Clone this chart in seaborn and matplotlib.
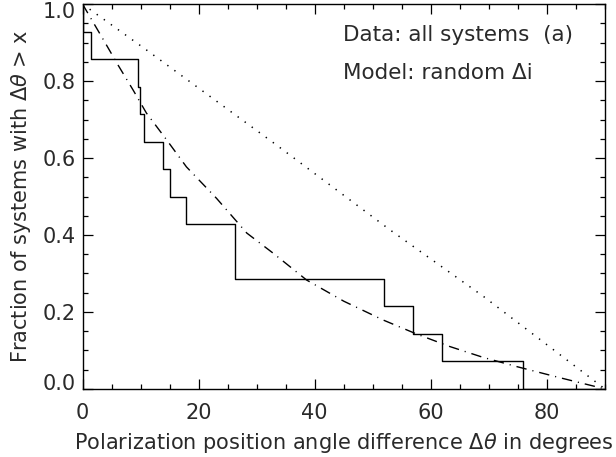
import numpy as np
import pandas as pd
import matplotlib
matplotlib.use("Agg")
import matplotlib.pyplot as plt
import matplotlib.transforms as mtransforms
import seaborn as sns

# Measured position angle differences (deg), one per system
angles = [0.0, 1.5, 9.6, 9.9, 10.6, 13.9, 15.0, 17.8, 26.3, 26.3, 52.0, 56.9, 62.0, 75.9]

# Model curve: random delta i (dash-dot)
model_x = [0.0, 3.8, 6.1, 8.7, 11.0, 14.5, 17.9, 23.1, 28.3, 32.9, 38.6, 45.0, 51.8, 57.5,
           63.3, 69.0, 74.8, 82.0, 90.0]
model_y = [1.0, 0.902, 0.842, 0.777, 0.717, 0.647, 0.577, 0.495, 0.405, 0.352, 0.283, 0.228,
           0.179, 0.143, 0.110, 0.082, 0.058, 0.030, 0.0]

# Dotted reference line
dot_x = [0.0, 11.0, 33.4, 53.0, 69.1, 90.0]
dot_y = [1.0, 0.881, 0.634, 0.413, 0.240, 0.0]

x_ticks = [0, 20, 40, 60, 80]
y_ticks = [0.0, 0.2, 0.4, 0.6, 0.8, 1.0]

sns.set_style("ticks")
plt.rcParams['font.family'] = ['DejaVu Sans']

# step data: fraction of systems with delta theta > x
n = len(angles)
srt = sorted(angles)
step_df = pd.DataFrame({
    'x': [0.0] + srt + [90.0],
    'y': [1.0] + [1 - (i + 1) / n for i in range(n)] + [0.0],
})
model_df = pd.DataFrame({'x': model_x, 'y': model_y})
dot_df = pd.DataFrame({'x': dot_x, 'y': dot_y})

fig = plt.figure(figsize=(6.16, 4.57), dpi=100)
ax = fig.add_axes([0.134, 0.149, 0.848, 0.842])

sns.lineplot(data=step_df, x='x', y='y', ax=ax, estimator=None, sort=False,
             drawstyle='steps-post', color='black', lw=1.0)
sns.lineplot(data=model_df, x='x', y='y', ax=ax, estimator=None, sort=False,
             color='black', lw=1.0, linestyle=(0, (7.5, 4.3, 0.8, 4.3)))
sns.lineplot(data=dot_df, x='x', y='y', ax=ax, estimator=None, sort=False,
             color='black', lw=1.1, linestyle=(0, (0.9, 4.8)))

ax.set_xlim(0, 90)
ax.set_ylim(0, 1.0)
ax.set_xticks(x_ticks)
ax.set_yticks(y_ticks)
ax.set_xticks(np.arange(0, 91, 5), minor=True)
ax.set_yticks(np.arange(0, 1.001, 0.05), minor=True)
ax.set_yticklabels([f"{v:.1f}" for v in y_ticks])

for s in ax.spines.values():
    s.set_visible(True)
    s.set_linewidth(1.0)
    s.set_color('black')

fs = 15
txtc = '#2a2a2a'
ax.tick_params(which='both', direction='in', top=True, right=True, width=0.9, colors='black')
ax.tick_params(which='major', length=7)
ax.tick_params(which='minor', length=3.5)
ax.tick_params(axis='x', which='major', pad=10, labelsize=fs, labelcolor=txtc)
ax.tick_params(axis='y', which='major', pad=5, labelsize=fs, labelcolor=txtc)

# first / last y labels sit inside the frame like the original
ylabs = ax.get_yticklabels()
ylabs[0].set_transform(ylabs[0].get_transform() +
                       mtransforms.ScaledTranslation(0, 7 / 100, fig.dpi_scale_trans))
ylabs[-1].set_transform(ylabs[-1].get_transform() +
                        mtransforms.ScaledTranslation(0, -6 / 100, fig.dpi_scale_trans))

ax.set_xlabel(r"Polarization position angle difference $\Delta\theta$ in degrees",
              fontsize=fs, color=txtc, labelpad=6)
ax.set_ylabel(r"Fraction of systems with $\Delta\theta$ > x", fontsize=fs, color=txtc,
              labelpad=7)

ax.text(44.9, 0.919, "Data: all systems  (a)", fontsize=15.5, color=txtc, va='center')
ax.text(44.9, 0.821, "Model: random Δi", fontsize=15.5, color=txtc, va='center')

plt.savefig("out.png", dpi=100)
